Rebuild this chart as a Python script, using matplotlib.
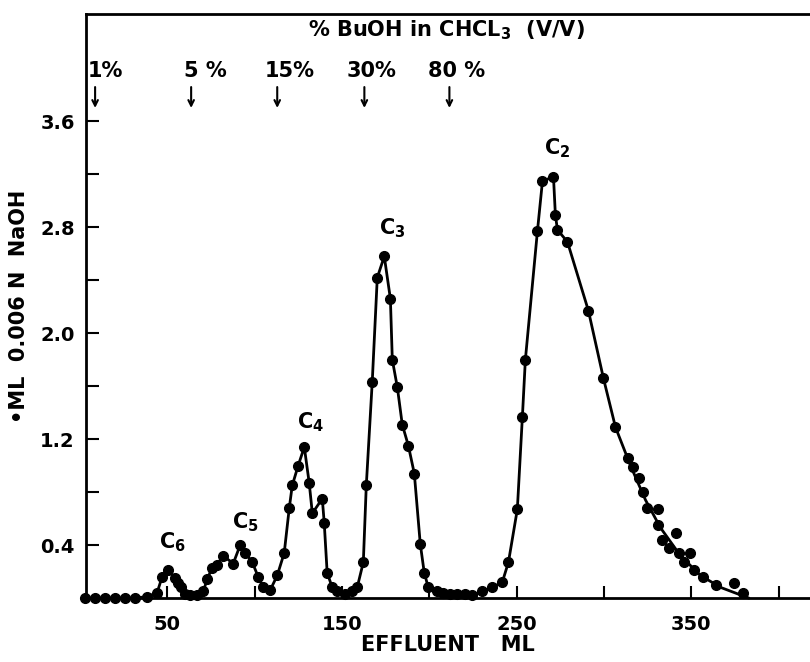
import numpy as np
import matplotlib
matplotlib.use("Agg")
import matplotlib.pyplot as plt

# effluent volume (ml) and titration (ml 0.006 N NaOH) for each fraction
effluent_ml = [3, 8.6, 14.3, 20.1, 25.8, 31.5, 38.4,
               44.1, 47.0, 50.4, 54.4, 56.2, 57.9, 60.2, 63.0, 67.0,
               70.5, 72.8, 75.6, 78.5, 81.9, 87.7, 91.7, 94.6, 98.6, 102.0, 104.9, 108.9,
               112.9, 116.9, 119.8, 121.5, 124.9, 128.4, 131.2, 133.0, 138.7, 139.8, 141.5, 144.4,
               147.3, 151.9, 155.9, 158.7,
               162.2, 163.9, 167.3, 170.2, 174.2, 177.7, 178.8, 181.7, 184.5, 188.0, 191.4, 194.8,
               197.1, 199.4, 204.6, 208.0, 212.0, 216.0, 220.6, 224.6, 230.4, 236.1, 241.8,
               245.3, 250.4, 253.3, 255.0, 261.9, 264.8, 271.1, 272.2, 273.4, 279.1,
               291.1, 299.7, 306.6, 314.0, 316.9, 320.3, 322.6, 324.9, 330.7, 330.7, 333.5,
               337.0, 341.0, 342.7, 345.6, 349.0, 351.3, 357.0, 363.9, 374.2, 379.9]
naoh_ml = [0, 0, 0, 0, 0, 0, 0.01,
           0.04, 0.16, 0.21, 0.15, 0.11, 0.08, 0.03, 0.02, 0.02,
           0.05, 0.14, 0.23, 0.25, 0.32, 0.26, 0.40, 0.34, 0.27, 0.16, 0.08, 0.06,
           0.17, 0.34, 0.68, 0.85, 1.00, 1.14, 0.87, 0.64, 0.75, 0.57, 0.19, 0.08,
           0.05, 0.03, 0.05, 0.08,
           0.27, 0.85, 1.63, 2.42, 2.58, 2.26, 1.80, 1.59, 1.31, 1.15, 0.94, 0.41,
           0.19, 0.08, 0.05, 0.04, 0.03, 0.03, 0.03, 0.02, 0.05, 0.08, 0.12,
           0.27, 0.67, 1.37, 1.80, 2.77, 3.15, 3.18, 2.89, 2.78, 2.69,
           2.17, 1.66, 1.29, 1.06, 0.99, 0.91, 0.80, 0.68, 0.67, 0.55, 0.44,
           0.38, 0.49, 0.34, 0.27, 0.34, 0.21, 0.16, 0.10, 0.11, 0.04]

# hand-drawn smooth curve through the C2 tail
tail_x = [279.1, 291.1, 299.7, 306.6, 315.2, 323.8, 332.4, 343.8, 355.3, 366.8, 382.8]
tail_y = [2.69, 2.17, 1.66, 1.29, 1.00, 0.74, 0.53, 0.32, 0.17, 0.08, 0.0]

# solvent changes
step_x = [8.6, 63.6, 112.9, 162.8, 211.5]
step_label_x = [4.6, 59.6, 105.9, 152.4, 199.4]
step_labels = ["1%", "5 %", "15%", "30%", "80 %"]

# peak labels
peak_names = ["6", "5", "4", "3", "2"]
peak_x = [52.7, 94.6, 131.8, 178.8, 273.4]
peak_y = [0.42, 0.57, 1.33, 2.79, 3.40]

plt.rcParams['font.family'] = ['DejaVu Sans']
plt.rcParams['font.weight'] = 'bold'
plt.rcParams['axes.labelweight'] = 'bold'
plt.rcParams['mathtext.default'] = 'bf'

fig = plt.figure(figsize=(8.1, 6.62), dpi=100)
ax = fig.add_axes([0.1062, 0.0967, 0.8938, 0.882])

ex = np.array(effluent_ml)
ny = np.array(naoh_ml)
keep = ex <= tail_x[0]
line_x = np.concatenate([ex[keep], tail_x[1:]])
line_y = np.concatenate([ny[keep], tail_y[1:]])
ax.plot(line_x, line_y, color='black', lw=2.0, clip_on=False, zorder=2)
ax.plot(ex, ny, 'o', color='black', ms=7, clip_on=False, zorder=3)

ax.set_xlim(3.4, 418)
ax.set_ylim(0, 4.41)

ax.set_xticks([50, 150, 250, 350])
ax.set_xticks([100, 200, 300, 400], minor=True)
ax.set_yticks([0.4, 1.2, 2.0, 2.8, 3.6])
ax.set_yticks([0.8, 1.6, 2.4, 3.2], minor=True)
ax.tick_params(which='both', direction='in', length=9, width=1.5, labelsize=14)
ax.tick_params(axis='x', pad=12)
ax.tick_params(axis='y', pad=8)
ax.set_yticklabels(["0.4", "1.2", "2.0", "2.8", "3.6"])

for side in ['left', 'bottom', 'top']:
    ax.spines[side].set_linewidth(2)
ax.spines['right'].set_visible(False)

ax.set_xlabel("EFFLUENT   ML", fontsize=15, labelpad=1)
ax.set_ylabel("\u2022ML  0.006 N  NaOH", fontsize=15, labelpad=8)

ax.text(210, 4.29, "% BuOH in CHCL$_3$  (V/V)", fontsize=15, ha='center', va='center')
for sx, lx, lab in zip(step_x, step_label_x, step_labels):
    ax.text(lx, 3.98, lab, fontsize=15, ha='left', va='center')
    ax.annotate("", xy=(sx, 3.68), xytext=(sx, 3.88),
                arrowprops=dict(arrowstyle='->', color='black', lw=1.5))

for name, px, py in zip(peak_names, peak_x, peak_y):
    ax.text(px, py, "C$_{%s}$" % name, fontsize=15, ha='center', va='center')

fig.savefig("out.png", dpi=100)
